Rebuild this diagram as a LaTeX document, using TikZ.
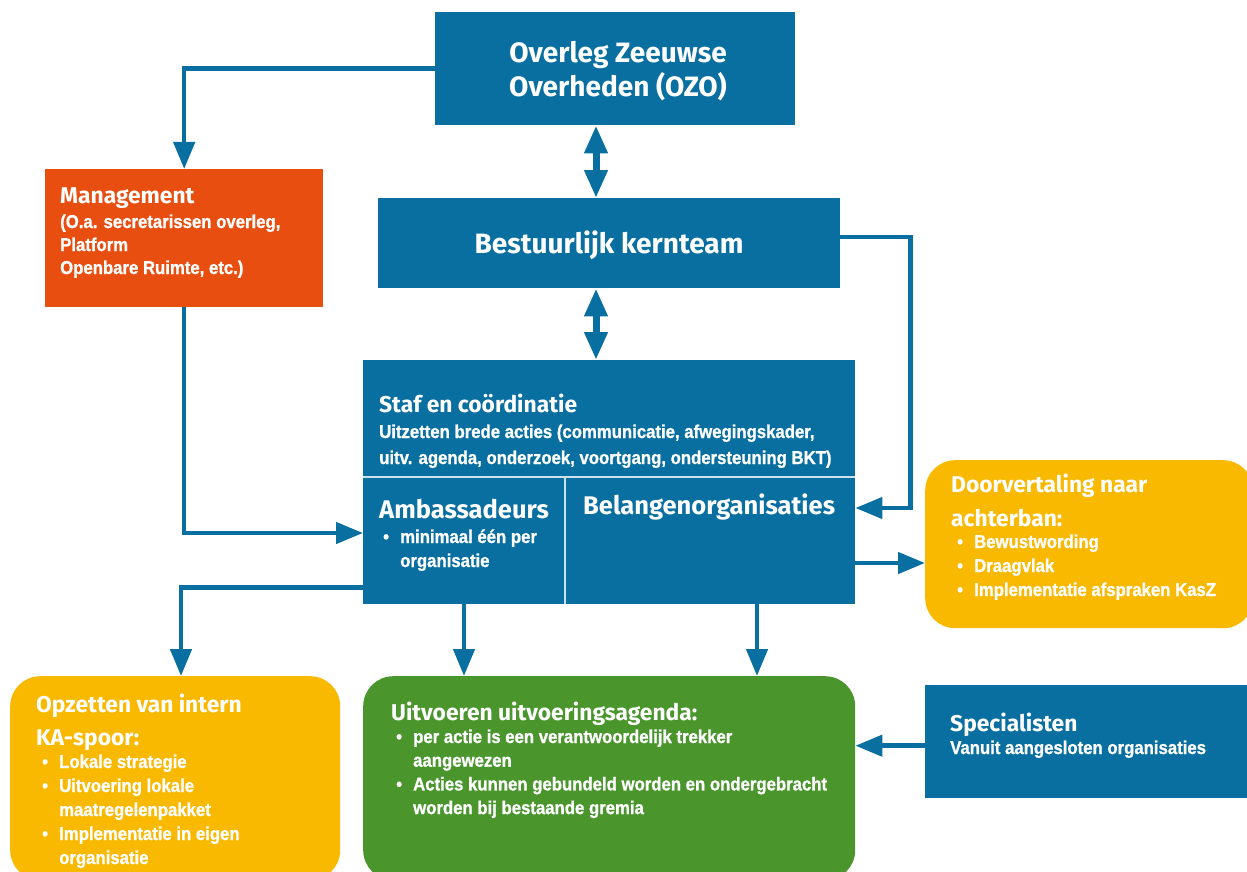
\documentclass[tikz,border=0pt]{standalone}
\usepackage{fontspec}
\setmainfont{Liberation Sans}
\newfontfamily\hfont{Fira Sans}
\newfontfamily\cfont[FakeStretch=0.9, BoldFeatures={FakeBold=1.0}]{Liberation Sans}
\usetikzlibrary{arrows.meta,calc}
\definecolor{kblue}{RGB}{8,111,160}
\definecolor{korange}{RGB}{232,78,15}
\definecolor{kyellow}{RGB}{249,185,0}
\definecolor{kgreen}{RGB}{74,150,45}
\definecolor{kline}{RGB}{205,225,236}
\newcommand\blk[2]{\vtop{\baselineskip=#1\lineskiplimit=-30pt\lineskip=0pt #2}}
\newcommand\bl[1]{\hbox{\makebox[17pt][l]{\textbullet}#1}}
\newcommand\cl[1]{\hbox{\hspace*{17pt}#1}}
\tikzset{
  box/.style={anchor=north west, inner sep=0pt, draw=none},
  bluebox/.style={box, fill=kblue},
  rbox/.style={box, rounded corners=30pt},
  conn/.style={draw=kblue, line width=4.5pt, -{Triangle[length=27pt,width=21pt]}},
  dbl/.style={draw=kblue, line width=7pt, {Triangle[length=28pt,width=22pt]}-{Triangle[length=28pt,width=22pt]}},
  divider/.style={draw=kline, line width=2pt},
  ttl/.style={text=white, anchor=base west, inner sep=0pt, font=\hfont\bfseries\fontsize{22.8}{22.8}\selectfont},
  bigttl/.style={ttl, font=\hfont\bfseries\fontsize{25.5}{25.5}\selectfont},
  body/.style={text=white, anchor=base west, inner sep=0pt, font=\cfont\bfseries\fontsize{18.6}{18.6}\selectfont},
}
\begin{document}
\begin{tikzpicture}[x=1pt,y=-1pt]
\useasboundingbox (0,0) rectangle (1247,872);
% boxes
\node[bluebox, minimum width=360pt, minimum height=113pt] (ozo) at (435,12) {};
\node[bluebox, minimum width=462pt, minimum height=90pt] (bkt) at (378,198) {};
\node[box, fill=korange, minimum width=278pt, minimum height=138pt] (mgmt) at (45,169) {};
\node[bluebox, minimum width=492pt, minimum height=244pt] (staf) at (363,360) {};
\node[rbox, fill=kyellow, minimum width=328pt, minimum height=168pt] (door) at (925,460) {};
\node[rbox, fill=kyellow, minimum width=330pt, minimum height=204pt] (opz) at (10,676) {};
\node[rbox, fill=kgreen, minimum width=492pt, minimum height=204pt] (uit) at (363,676) {};
\node[bluebox, minimum width=330pt, minimum height=113pt] (spec) at (925,685) {};
% dividers in staf
\draw[divider] ($(staf.north west)+(0,117)$) -- ($(staf.north east)+(0,117)$);
\draw[divider] ($(staf.north west)+(202,117)$) -- ($(staf.south west)+(202,0)$);
% connectors
\coordinate (d1) at (596,0);
\draw[conn] (ozo.west) -| (mgmt.north);
\draw[dbl] (ozo.south -| d1) -- (bkt.north -| d1);
\draw[dbl] (bkt.south -| d1) -- (staf.north -| d1);
\draw[conn] ($(bkt.north east)+(0,39)$) -| ($(staf.north east)+(55,148)$) -- ($(staf.north east)+(0,148)$);
\draw[conn] (mgmt.south) |- ($(staf.north west)+(0,173)$);
\coordinate (s2) at ($(staf.north east)+(0,203)$);
\draw[conn] (s2) -- (door.west |- s2);
\draw[conn] ($(staf.south west)+(0,-17)$) -| ($(opz.north west)+(171,0)$);
\draw[conn] ($(staf.south west)+(101,0)$) -- ($(uit.north west)+(101,0)$);
\draw[conn] ($(staf.south west)+(394,0)$) -- ($(uit.north west)+(394,0)$);
\coordinate (s1) at ($(spec.west)+(0,4)$);
\draw[conn] (s1) -- (uit.east |- s1);
% texts
\node[ttl, anchor=base, font=\hfont\bfseries\fontsize{28}{28}\selectfont] (tozo) at (618,63) {\blk{34pt}{\hbox to 0pt{\hss Overleg Zeeuwse\hss}\hbox to 0pt{\hss Overheden (OZO)\hss}}};
\node[ttl, anchor=base, font=\hfont\bfseries\fontsize{28}{28}\selectfont] (tbkt) at (609,253) {Bestuurlijk kernteam};
\node[ttl] (tm1) at (60,203) {Management};
\node[body] (tm2) at (60,228) {\blk{23pt}{\hbox{(O.a. secretarissen overleg,}\hbox{Platform}\hbox{Openbare Ruimte, etc.)}}};
\node[ttl] (ts1) at (379,412) {Staf en coördinatie};
\node[body] (ts2) at (379,438) {\blk{26pt}{\hbox{Uitzetten brede acties (communicatie, afwegingskader,}\hbox{uitv. agenda, onderzoek, voortgang, ondersteuning BKT)}}};
\node[bigttl] (ta1) at (379,518) {Ambassadeurs};
\node[body] (ta2) at (383,543) {\blk{24pt}{\bl{minimaal één per}\cl{organisatie}}};
\node[bigttl] (tb1) at (583,514) {Belangenorganisaties};
\node[ttl] (td1) at (951,492) {\blk{34pt}{\hbox{Doorvertaling naar}\hbox{achterban:}}};
\node[body] (td2) at (957,548) {\blk{24pt}{\bl{Bewustwording}\bl{Draagvlak}\bl{Implementatie afspraken KasZ}}};
\node[ttl] (to1) at (36,712) {\blk{33pt}{\hbox{Opzetten van intern}\hbox{KA-spoor:}}};
\node[body] (to2) at (42,768) {\blk{24pt}{\bl{Lokale strategie}\bl{Uitvoering lokale}\cl{maatregelenpakket}\bl{Implementatie in eigen}\cl{organisatie}}};
\node[ttl] (tu1) at (391,720) {Uitvoeren uitvoeringsagenda:};
\node[body] (tu2) at (396,743) {\blk{23.7pt}{\bl{per actie is een verantwoordelijk trekker}\cl{aangewezen}\bl{Acties kunnen gebundeld worden en ondergebracht}\cl{worden bij bestaande gremia}}};
\node[ttl] (tsp1) at (950,731) {Specialisten};
\node[body] (tsp2) at (950,754) {Vanuit aangesloten organisaties};
\end{tikzpicture}
\end{document}
